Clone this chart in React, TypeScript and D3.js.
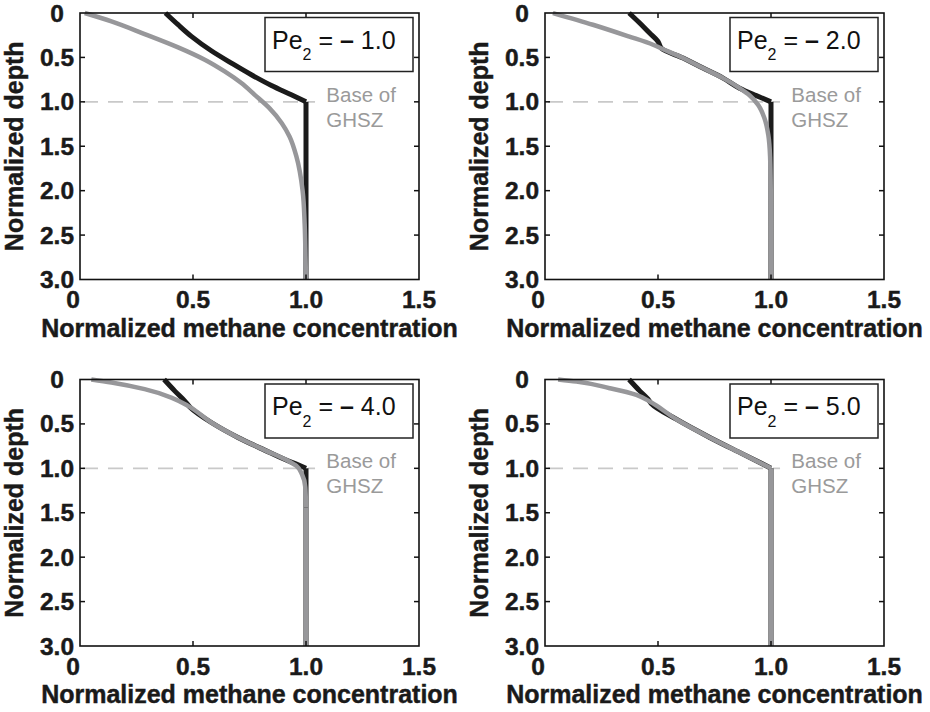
import React from 'react';
import * as d3 from 'd3';

// ---- Data ----
const PE_LABELS = ['1.0', '2.0', '4.0', '5.0'];
const X_TICKS = [0, 0.5, 1.0, 1.5];
const X_TICK_LABELS = ['0', '0.5', '1.0', '1.5'];
const Y_TICKS = [0, 0.5, 1.0, 1.5, 2.0, 2.5, 3.0];
const Y_TICK_LABELS = ['0', '0.5', '1.0', '1.5', '2.0', '2.5', '3.0'];
const GHSZ_DEPTH = 1.0;
const GHSZ_LINE_END = 1.04;

// Pe2 = -1.0
const pe1BlackDepth = [0, 0.132, 0.263, 0.425, 0.564, 0.695, 0.816, 0.921, 1.0, 3.0];
const pe1BlackConc = [0.378, 0.434, 0.493, 0.581, 0.67, 0.758, 0.847, 0.935, 1.0, 1.0];
const pe1GrayDepth = [0, 0.094, 0.237, 0.387, 0.526, 0.658, 0.789, 0.921, 1.071, 1.241, 1.391, 1.62, 2.0, 2.37, 2.75, 3.0];
const pe1GrayConc = [0.021, 0.139, 0.286, 0.434, 0.552, 0.64, 0.714, 0.773, 0.838, 0.893, 0.927, 0.958, 0.985, 0.994, 0.998, 1.0];

// Pe2 = -2.0
const pe2BlackDepth = [0, 0.113, 0.226, 0.32, 0.4, 0.507, 0.62, 0.733, 0.846, 0.93, 1.0, 3.0];
const pe2BlackConc = [0.372, 0.419, 0.463, 0.5, 0.516, 0.611, 0.699, 0.788, 0.861, 0.935, 1.0, 1.0];
const pe2GrayDepth = [0, 0.132, 0.263, 0.357, 0.4, 0.507, 0.62, 0.733, 0.846, 0.929, 1.034, 1.184, 1.372, 1.62, 2.0, 2.6, 3.0];
const pe2GrayConc = [0.035, 0.212, 0.37, 0.478, 0.516, 0.611, 0.699, 0.788, 0.861, 0.906, 0.943, 0.971, 0.988, 0.996, 0.999, 1.0, 1.0];

// Pe2 = -4.0
const pe4BlackDepth = [0, 0.128, 0.24, 0.315, 0.484, 0.652, 0.795, 0.915, 0.96, 1.0, 3.0];
const pe4BlackConc = [0.372, 0.419, 0.463, 0.488, 0.581, 0.699, 0.817, 0.92, 0.965, 1.0, 1.0];
const pe4GrayDepth = [0, 0.034, 0.109, 0.203, 0.297, 0.484, 0.652, 0.795, 0.915, 0.972, 1.065, 1.215, 1.44, 3.0];
const pe4GrayConc = [0.05, 0.139, 0.286, 0.404, 0.478, 0.581, 0.699, 0.817, 0.92, 0.957, 0.982, 0.997, 1.0, 1.0];

// Pe2 = -5.0
const pe5BlackDepth = [0, 0.128, 0.222, 0.27, 0.447, 0.652, 0.84, 0.998, 3.0];
const pe5BlackConc = [0.372, 0.419, 0.456, 0.47, 0.581, 0.729, 0.876, 1.0, 1.0];
const pe5GrayDepth = [0, 0.023, 0.098, 0.173, 0.248, 0.447, 0.652, 0.84, 0.998, 3.0];
const pe5GrayConc = [0.058, 0.139, 0.286, 0.404, 0.463, 0.581, 0.729, 0.876, 1.0, 1.0];

const PANELS = [
  { pe: PE_LABELS[0], black: [pe1BlackDepth, pe1BlackConc], gray: [pe1GrayDepth, pe1GrayConc] },
  { pe: PE_LABELS[1], black: [pe2BlackDepth, pe2BlackConc], gray: [pe2GrayDepth, pe2GrayConc] },
  { pe: PE_LABELS[2], black: [pe4BlackDepth, pe4BlackConc], gray: [pe4GrayDepth, pe4GrayConc] },
  { pe: PE_LABELS[3], black: [pe5BlackDepth, pe5BlackConc], gray: [pe5GrayDepth, pe5GrayConc] },
];

// ---- Layout ----
const W = 930;
const H = 712;
const PLOT_W = 339;
const PLOT_H = 266.5;
const ORIGINS = [
  { left: 80, top: 13 },
  { left: 545, top: 13 },
  { left: 80, top: 379.5 },
  { left: 545, top: 379.5 },
];
const FONT = '"Liberation Sans", Arial, Helvetica, sans-serif';
const BLACK = '#1b1b1b';
const GRAY = '#97979a';
const INK = '#1a1a1a';

function seriesPaths(depth: number[], conc: number[], x: any, y: any): string[] {
  const pts: [number, number][] = depth.map((d, i) => [conc[i], d]);
  let k = pts.findIndex((p) => p[0] >= 1.0);
  if (k < 0) k = pts.length - 1;
  const smooth = d3
    .line<[number, number]>()
    .x((p) => x(p[0]))
    .y((p) => y(p[1]))
    .curve(d3.curveMonotoneY);
  const straight = d3
    .line<[number, number]>()
    .x((p) => x(p[0]))
    .y((p) => y(p[1]));
  const out = [smooth(pts.slice(0, k + 1)) || ''];
  if (k < pts.length - 1) out.push(straight(pts.slice(k)) || '');
  return out;
}

const boldText = {
  fontFamily: FONT,
  fontWeight: 'bold' as const,
  fill: INK,
  stroke: INK,
  strokeWidth: 0.45,
};

function Panel({ idx }: { idx: number }) {
  const { left, top } = ORIGINS[idx];
  const panel = PANELS[idx];
  const x = d3.scaleLinear().domain([0, 1.5]).range([left, left + PLOT_W]);
  const y = d3.scaleLinear().domain([0, 3]).range([top, top + PLOT_H]);
  const bottom = top + PLOT_H;
  const right = left + PLOT_W;
  const tick = 5;
  const blackPaths = seriesPaths(panel.black[0], panel.black[1], x, y);
  const grayPaths = seriesPaths(panel.gray[0], panel.gray[1], x, y);
  const boxL = left + 185;
  const boxT = top + 4.5;
  const boxW = right - 6 - boxL;
  const boxH = 54;
  return (
    <g>
      {/* Base of GHSZ dashed line */}
      <line
        x1={x(0) + 3}
        x2={x(GHSZ_LINE_END)}
        y1={y(GHSZ_DEPTH)}
        y2={y(GHSZ_DEPTH)}
        stroke="#c9c9c9"
        strokeWidth={1.6}
        strokeDasharray="15,10"
      />
      <text x={x(1.09)} y={y(GHSZ_DEPTH)} fill="#9a9a9a" fontFamily={FONT} fontSize={20.5}>
        Base of
      </text>
      <text x={x(1.09)} y={y(GHSZ_DEPTH) + 25} fill="#9a9a9a" fontFamily={FONT} fontSize={20.5}>
        GHSZ
      </text>
      {/* curves */}
      {blackPaths.map((d, i) => (
        <path key={'b' + i} d={d} fill="none" stroke={BLACK} strokeWidth={5} />
      ))}
      {grayPaths.map((d, i) => (
        <path key={'g' + i} d={d} fill="none" stroke={GRAY} strokeWidth={4.5} />
      ))}
      {/* frame */}
      <rect x={left} y={top} width={PLOT_W} height={PLOT_H} fill="none" stroke="#111" strokeWidth={1.6} />
      {X_TICKS.slice(1, -1).map((t) => (
        <g key={'xt' + t}>
          <line x1={x(t)} x2={x(t)} y1={bottom} y2={bottom - tick} stroke="#111" strokeWidth={1.5} />
          <line x1={x(t)} x2={x(t)} y1={top} y2={top + tick} stroke="#111" strokeWidth={1.5} />
        </g>
      ))}
      {Y_TICKS.slice(1, -1).map((t) => (
        <g key={'yt' + t}>
          <line x1={left} x2={left + tick} y1={y(t)} y2={y(t)} stroke="#111" strokeWidth={1.5} />
          <line x1={right} x2={right - tick} y1={y(t)} y2={y(t)} stroke="#111" strokeWidth={1.5} />
        </g>
      ))}
      {/* tick labels */}
      {X_TICKS.map((t, i) => (
        <text
          key={'xl' + t}
          x={x(t)}
          y={bottom + 28.5}
          textAnchor={i === 0 ? 'end' : 'middle'}
          fontSize={24.5}
          {...boldText}
        >
          {X_TICK_LABELS[i]}
        </text>
      ))}
      {Y_TICKS.map((t, i) => (
        <text
          key={'yl' + t}
          x={left - 23}
          y={y(t) + 8.5}
          textAnchor="middle"
          fontSize={24.5}
          {...boldText}
        >
          {Y_TICK_LABELS[i]}
        </text>
      ))}
      {/* axis titles */}
      <text x={(left + right) / 2} y={bottom + 57} textAnchor="middle" fontSize={25} {...boldText}>
        Normalized methane concentration
      </text>
      <text
        transform={`translate(${left - 57},${(top + bottom) / 2}) rotate(-90)`}
        textAnchor="middle"
        fontSize={25}
        {...boldText}
      >
        Normalized depth
      </text>
      {/* legend box */}
      <rect x={boxL} y={boxT} width={boxW} height={boxH} fill="#fff" stroke="#222" strokeWidth={1.5} />
      <text x={boxL + 7} y={boxT + 31} fontFamily={FONT} fontSize={25} fill="#111">
        <tspan>Pe</tspan>
        <tspan fontSize={16} dy={11.7}>2</tspan>
        <tspan dy={-11.7}> = </tspan>
        <tspan fontWeight="bold">–</tspan>
        <tspan> {panel.pe}</tspan>
      </text>
    </g>
  );
}

export default function App() {
  return (
    <svg
      width={W}
      height={H}
      viewBox={`0 0 ${W} ${H}`}
      style={{ position: 'absolute', left: 0, top: 0, background: '#fff' }}
    >
      <rect x={0} y={0} width={W} height={H} fill="#fff" />
      {PANELS.map((_, i) => (
        <Panel key={i} idx={i} />
      ))}
    </svg>
  );
}
